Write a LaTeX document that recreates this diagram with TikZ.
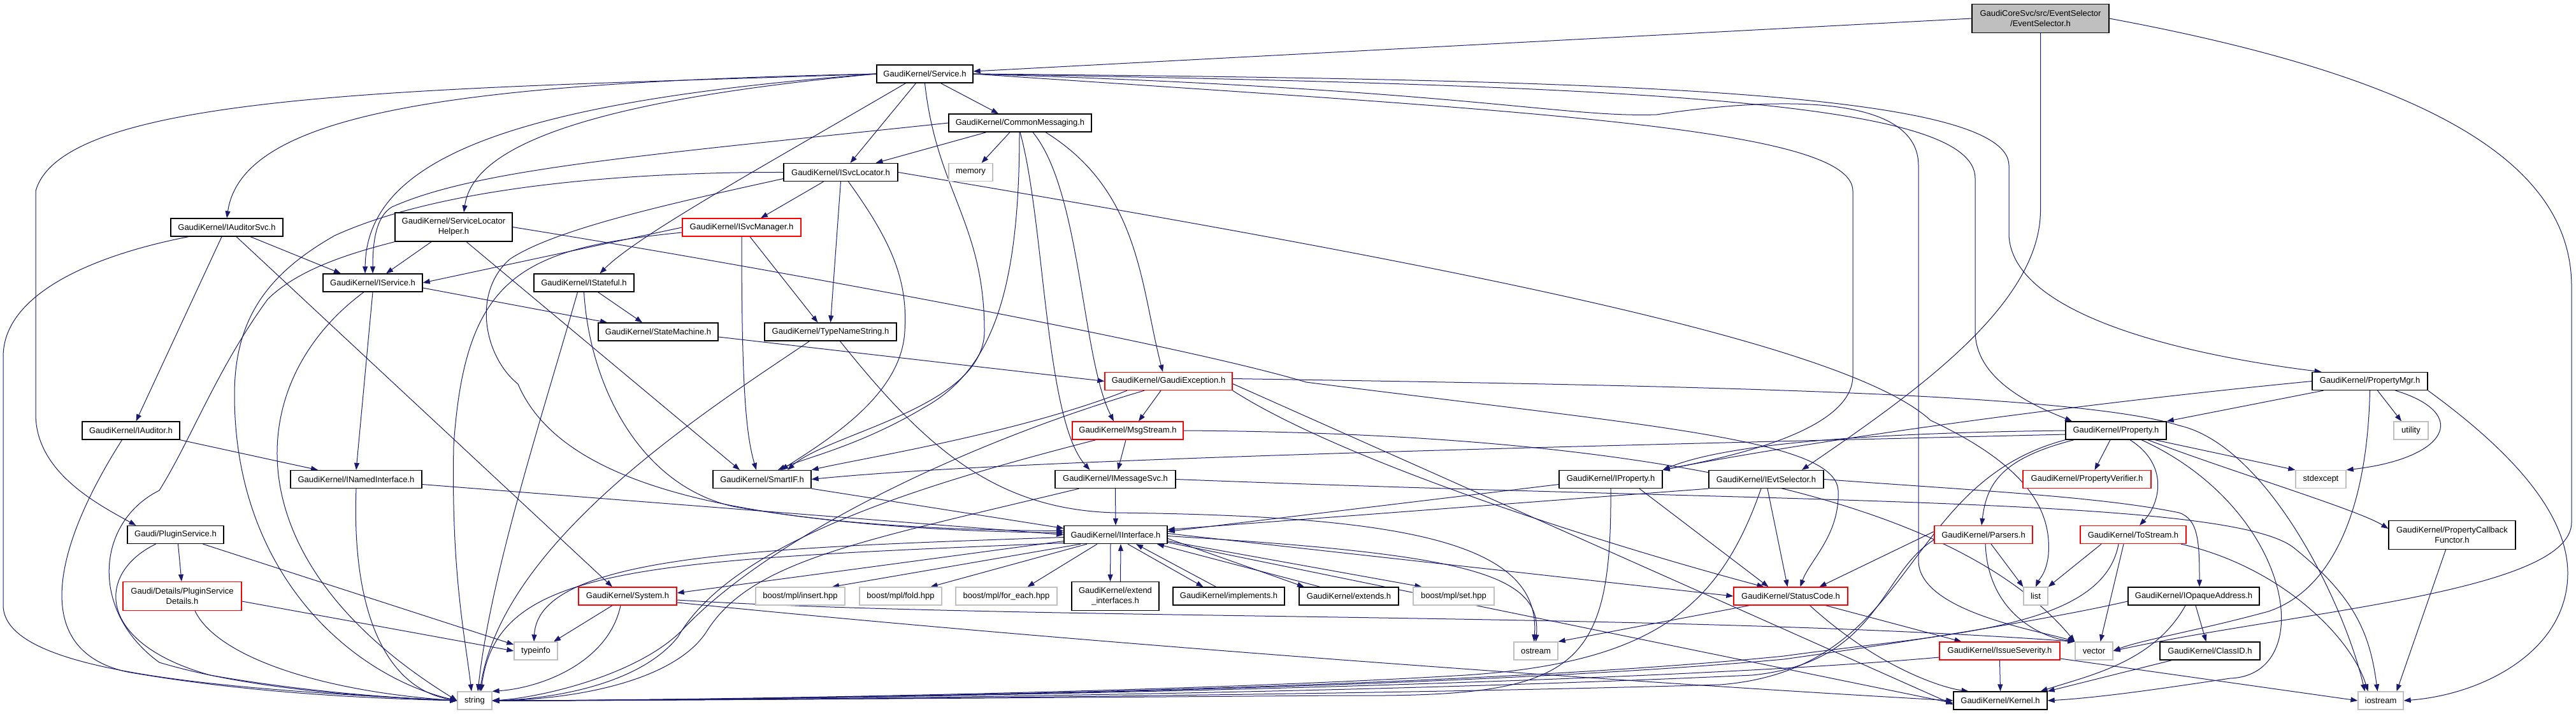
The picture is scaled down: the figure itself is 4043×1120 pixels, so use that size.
\documentclass[tikz,border=0pt]{standalone}
\usepackage{fontspec}
\setmainfont{Liberation Sans}
\usetikzlibrary{arrows.meta}
\definecolor{mblue}{HTML}{191970}
\definecolor{gbord}{HTML}{BFBFBF}
\pgfdeclarelayer{bg}
\pgfdeclarelayer{edges}
\pgfsetlayers{bg,edges,main}
\newcommand{\nf}{\fontsize{13pt}{16pt}\selectfont}
\tikzset{
  nd/.style={draw=black, fill=white, line width=1.3pt, inner sep=0pt, align=center, font=\nf, minimum height=28pt},
  rd/.style={nd, draw=red},
  gd/.style={nd, draw=gbord},
  tall/.style={minimum height=45pt},
  lnk/.style={draw=mblue, line width=1pt, -{Triangle[length=11pt,width=8pt]}},
}
\begin{document}
\begin{tikzpicture}[x=1pt,y=-1pt]
\useasboundingbox (0,0) rectangle (4043,1120);
\begin{pgfonlayer}{bg}
\fill[white] (0,0) rectangle (4043,1120);
\end{pgfonlayer}

% ---------------- nodes ----------------
\node[nd, fill=gbord, tall, minimum width=215pt] (ES) at (3202.5,29) {GaudiCoreSvc/src/EventSelector\\/EventSelector.h};
\node[nd, minimum width=151pt] (SV) at (1451.5,116) {GaudiKernel/Service.h};
\node[nd, minimum width=224pt] (CM) at (1601,193) {GaudiKernel/CommonMessaging.h};
\node[nd, minimum width=179pt] (SL) at (1319.5,270.5) {GaudiKernel/ISvcLocator.h};
\node[gd, minimum width=69pt] (MEM) at (1523.5,270.5) {memory};
\node[rd, minimum width=186pt] (SM) at (1164,357) {GaudiKernel/ISvcManager.h};
\node[nd, minimum width=176pt] (AS) at (356,357) {GaudiKernel/IAuditorSvc.h};
\node[nd, tall, minimum width=184pt] (SLH) at (712,356.5) {GaudiKernel/ServiceLocator\\Helper.h};
\node[nd, minimum width=156pt] (IS) at (585,444) {GaudiKernel/IService.h};
\node[nd, minimum width=157pt] (IST) at (916.5,444) {GaudiKernel/IStateful.h};
\node[nd, minimum width=188pt] (STM) at (1033,521) {GaudiKernel/StateMachine.h};
\node[nd, minimum width=207pt] (TNS) at (1303.5,521) {GaudiKernel/TypeNameString.h};
\node[rd, minimum width=200pt] (GE) at (1834,598.5) {GaudiKernel/GaudiException.h};
\node[nd, minimum width=181pt] (PM) at (3719.5,598.5) {GaudiKernel/PropertyMgr.h};
\node[nd, minimum width=153pt] (IA) at (205.5,676) {GaudiKernel/IAuditor.h};
\node[rd, minimum width=174pt] (MS) at (1770,676) {GaudiKernel/MsgStream.h};
\node[nd, minimum width=158pt] (PR) at (3321,676) {GaudiKernel/Property.h};
\node[gd, minimum width=54pt] (UT) at (3784,676) {utility};
\node[nd, minimum width=206pt] (NI) at (559,752.5) {GaudiKernel/INamedInterface.h};
\node[nd, minimum width=154pt] (SIF) at (1196,752.5) {GaudiKernel/SmartIF.h};
\node[nd, minimum width=189pt] (IMS) at (1750.5,752.5) {GaudiKernel/IMessageSvc.h};
\node[nd, minimum width=162pt] (IP) at (2528,752.5) {GaudiKernel/IProperty.h};
\node[nd, minimum width=180pt] (IES) at (2772,752.5) {GaudiKernel/IEvtSelector.h};
\node[rd, minimum width=201pt] (PV) at (3275.5,752.5) {GaudiKernel/PropertyVerifier.h};
\node[gd, minimum width=79pt] (SE) at (3642.5,752.5) {stdexcept};
\node[nd, minimum width=151pt] (PS) at (275.5,839.5) {Gaudi/PluginService.h};
\node[nd, minimum width=162pt] (II) at (1751,839.5) {GaudiKernel/IInterface.h};
\node[rd, minimum width=154pt] (PA) at (3113,839.5) {GaudiKernel/Parsers.h};
\node[rd, minimum width=166pt] (TS) at (3348,839.5) {GaudiKernel/ToStream.h};
\node[nd, tall, minimum width=199pt] (PCF) at (3848.5,840) {GaudiKernel/PropertyCallback\\Functor.h};
\node[rd, tall, minimum width=186pt] (PSD) at (286,936) {Gaudi/Details/PluginService\\Details.h};
\node[rd, minimum width=154pt] (SYS) at (985,936) {GaudiKernel/System.h};
\node[gd, minimum width=140pt] (BI) at (1256,936) {boost/mpl/insert.hpp};
\node[gd, minimum width=129pt] (BF) at (1413.5,936) {boost/mpl/fold.hpp};
\node[gd, minimum width=159pt] (BFE) at (1579.5,936) {boost/mpl/for\_each.hpp};
\node[nd, tall, minimum width=137pt] (EI) at (1750.5,936) {GaudiKernel/extend\\\_interfaces.h};
\node[nd, minimum width=175pt] (IMP) at (1928.5,936) {GaudiKernel/implements.h};
\node[nd, minimum width=156pt] (EXT) at (2117,936) {GaudiKernel/extends.h};
\node[gd, minimum width=127pt] (BS) at (2281.5,936) {boost/mpl/set.hpp};
\node[rd, minimum width=179pt] (SC) at (2810.5,936) {GaudiKernel/StatusCode.h};
\node[gd, minimum width=38pt] (LST) at (3195,936) {list};
\node[nd, minimum width=206pt] (IOA) at (3443,936) {GaudiKernel/IOpaqueAddress.h};
\node[gd, minimum width=68pt] (TI) at (841,1022) {typeinfo};
\node[gd, minimum width=69pt] (OS) at (2410.5,1022) {ostream};
\node[rd, minimum width=189pt] (ISV) at (3138.5,1022) {GaudiKernel/IssueSeverity.h};
\node[gd, minimum width=59pt] (VEC) at (3286.5,1022) {vector};
\node[nd, minimum width=157pt] (CID) at (3468.5,1022) {GaudiKernel/ClassID.h};
\node[gd, minimum width=54pt] (STR) at (745,1100) {string};
\node[nd, minimum width=147pt] (KER) at (3139.5,1100) {GaudiKernel/Kernel.h};
\node[gd, minimum width=71pt] (IOS) at (3736.5,1100) {iostream};

% ---------------- edges ----------------
\begin{pgfonlayer}{edges}
% EventSelector
\draw[lnk] (ES.west) -- ([yshift=4pt]SV.east);
\draw[lnk] (ES.south) -- (3202.5,330) .. controls (3202.5,480) and (3000,620) .. ([xshift=56pt]IES.north);
\draw[lnk] (ES.east) .. controls (3800,120) and (4036,250) .. (4036,450) -- (4036,820) .. controls (4036,930) and (3600,960) .. (VEC.east);
% Service
\draw[lnk] (SV.west) .. controls (700,130) and (380,180) .. (AS.north);
\draw[lnk] (SV.west) .. controls (700,140) and (100,140) .. (56,300) -- (56,650) .. controls (56,740) and (150,790) .. ([xshift=-62pt]PS.north);
\draw[lnk] (SV.west) .. controls (800,160) and (575,250) .. ([xshift=-12pt]IS.north);
\draw[lnk] (SV.west) .. controls (850,165) and (740,250) .. ([xshift=16pt]SLH.north);
\draw[lnk] ([xshift=-30pt]SV.south) .. controls (1200,260) and (1000,370) .. ([xshift=25pt]IST.north);
\draw[lnk] ([xshift=-14pt]SV.south) -- ([xshift=15pt]SL.north);
\draw[lnk] (SV.south) .. controls (1470,300) and (1545,350) .. (1545,520) .. controls (1545,640) and (1300,680) .. ([xshift=40pt]SIF.north);
\draw[lnk] ([xshift=25pt]SV.south) -- ([xshift=-34pt]CM.north);
\draw[lnk] (SV.east) .. controls (2500,125) and (3153,140) .. (3153,260) -- (3153,370) .. controls (3160,500) and (3450,560) .. ([xshift=-76pt]PM.north);
\draw[lnk] (SV.east) .. controls (2600,135) and (3100,160) .. (3100,280) -- (3100,520) .. controls (3100,600) and (3200,640) .. ([xshift=-69pt]PR.north);
\draw[lnk] (SV.east) .. controls (2300,140) and (2450,185) .. (2600,180) .. controls (2800,150) and (3011,150) .. (3011,260) -- (3011,880) .. controls (3011,960) and (3200,990) .. (VEC.north west);
\draw[lnk] (SV.east) .. controls (2400,175) and (2908,200) .. (2908,300) -- (2908,590) .. controls (2908,680) and (2700,720) .. (IP.north east);
% CommonMessaging
\draw[lnk] ([xshift=-53pt]CM.south) -- ([xshift=55pt]SL.north);
\draw[lnk] ([xshift=-16pt]CM.south) -- ([xshift=17pt]MEM.north);
\draw[lnk] (CM.west) .. controls (1000,245) and (750,265) .. (615,325) .. controls (590,340) and (585,380) .. (IS.north);
\draw[lnk] ([xshift=-1pt]CM.south) .. controls (1600,450) and (1560,580) .. (1450,640) .. controls (1350,700) and (1260,720) .. ([xshift=25pt]SIF.north);
\draw[lnk] (CM.south) .. controls (1640,350) and (1640,660) .. ([xshift=-40pt]IMS.north);
\draw[lnk] ([xshift=20pt]CM.south) .. controls (1697,300) and (1697,560) .. ([xshift=-22pt]MS.north);
\draw[lnk] ([xshift=40pt]CM.south) .. controls (1790,300) and (1790,450) .. ([xshift=-9pt]GE.north);
% ISvcLocator
\draw[lnk] ([xshift=-27pt]SL.south) -- ([xshift=30pt]SM.north);
\draw[lnk] (SL.south) -- (TNS.north);
\draw[lnk] ([xshift=12pt]SL.south) .. controls (1400,380) and (1425,440) .. (1420,520) .. controls (1415,620) and (1300,690) .. ([xshift=30pt]SIF.north);
\draw[lnk] (SL.east) .. controls (2300,420) and (2900,540) .. (3030,660) .. controls (3180,730) and (3220,800) .. (3215,870) .. controls (3212,900) and (3200,910) .. (LST.north);
\draw[lnk] (SL.west) .. controls (1000,270) and (700,290) .. (525,370) .. controls (420,430) and (368,500) .. (368,620) .. controls (368,900) and (550,1060) .. (STR.west);
\draw[lnk] ([yshift=-10pt]SL.west) .. controls (1050,320) and (870,360) .. (800,407) .. controls (740,460) and (760,560) .. (813,603) .. controls (880,760) and (1150,830) .. ([yshift=6pt]II.west);
% ISvcManager
\draw[lnk] (SM.west) -- (IS.east);
\draw[lnk] ([yshift=-8pt]SM.west) .. controls (820,390) and (730,430) .. (712,700) .. controls (708,900) and (730,1000) .. ([xshift=-5pt]STR.north);
\draw[lnk] (SM.south) .. controls (1164,600) and (1170,680) .. ([xshift=-9pt]SIF.north);
\draw[lnk] ([xshift=13pt]SM.south) -- ([xshift=-20pt]TNS.north);
% IAuditorSvc
\draw[lnk] ([xshift=-60pt]AS.south) .. controls (150,400) and (5,460) .. (5,560) -- (5,950) .. controls (5,1050) and (300,1080) .. (STR.west);
\draw[lnk] ([xshift=-8pt]AS.south) -- ([xshift=8pt]IA.north);
\draw[lnk] ([xshift=15pt]AS.south) -- ([xshift=-24pt]SYS.north);
\draw[lnk] ([xshift=37pt]AS.south) -- ([xshift=-50pt]IS.north);
% ServiceLocatorHelper
\draw[lnk] (SLH.south west) .. controls (560,395) and (470,420) .. (420,470) .. controls (340,580) and (300,690) .. (250,770) .. controls (150,820) and (140,960) .. (250,1040) .. controls (400,1085) and (600,1095) .. (STR.west);
\draw[lnk] ([xshift=-35pt]SLH.south) -- ([xshift=21pt]IS.north);
\draw[lnk] ([xshift=20pt]SLH.south) -- ([xshift=-35pt]SIF.north);
\draw[lnk] (SLH.east) .. controls (1200,420) and (1850,540) .. (2050,600) .. controls (2600,670) and (2880,690) .. (2885,770) .. controls (2888,840) and (2840,880) .. ([xshift=15pt]SC.north);
% IService
\draw[lnk] (IS.south) -- (NI.north);
\draw[lnk] ([xshift=-14pt]IS.south) .. controls (380,600) and (360,880) .. (STR.west);
\draw[lnk] ([yshift=-8pt]IS.east) -- ([xshift=-80pt]STM.north);
% IStateful
\draw[lnk] ([xshift=22pt]IST.south) -- ([xshift=-25pt]STM.north);
\draw[lnk] (IST.south) .. controls (925,600) and (1000,760) .. (1150,795) .. controls (1350,830) and (1550,835) .. ([yshift=3pt]II.west);
\draw[lnk] ([xshift=-10pt]IST.south) .. controls (852,650) and (770,900) .. ([xshift=5pt]STR.north);
% StateMachine
\draw[lnk] ([yshift=-8pt]STM.east) -- (GE.west);
% TypeNameString
\draw[lnk] ([xshift=-33pt]TNS.south) .. controls (1100,650) and (790,850) .. ([xshift=8pt]STR.north);
\draw[lnk] ([xshift=15pt]TNS.south) .. controls (1450,700) and (1560,800) .. (1750,805) .. controls (2200,810) and (2420,850) .. ([xshift=-3pt]OS.north);
% GaudiException
\draw[lnk] ([xshift=-12pt]GE.south) -- ([xshift=17pt]MS.north);
\draw[lnk] ([xshift=-65pt]GE.south) .. controls (1600,680) and (1350,720) .. (SIF.north east);
\draw[lnk] ([xshift=-38pt]GE.south) .. controls (1500,700) and (1200,850) .. (1070,990) .. controls (1000,1060) and (850,1095) .. (STR.east);
\draw[lnk] (GE.south east) .. controls (2100,720) and (2500,850) .. ([xshift=-42pt]SC.north);
\draw[lnk] ([yshift=-4pt]GE.east) -- ([yshift=-6pt]KER.west);
\draw[lnk] ([yshift=4pt]GE.east) .. controls (2600,605) and (3250,615) .. (3420,668) .. controls (3560,700) and (3680,950) .. ([xshift=-25pt]IOS.north);
% MsgStream
\draw[lnk] ([xshift=-3pt]MS.south) -- ([xshift=4pt]IMS.north);
\draw[lnk] ([xshift=-50pt]MS.south) .. controls (1450,760) and (1150,850) .. (1064,1000) .. controls (1000,1080) and (850,1098) .. (STR.east);
\draw[lnk] (MS.east) .. controls (2500,680) and (3050,760) .. (VEC.north west);
% IMessageSvc
\draw[lnk] (IMS.south) -- (II.north);
\draw[lnk] ([xshift=-57pt]IMS.south) .. controls (1350,850) and (1180,880) .. (1110,990) .. controls (1060,1070) and (900,1098) .. (STR.east);
\draw[lnk] (IMS.east) .. controls (2800,790) and (3500,780) .. (3600,860) .. controls (3700,940) and (3720,1000) .. ([xshift=-5pt]IOS.north);
% SmartIF
\draw[lnk] (SIF.south east) -- ([yshift=10pt]II.west);
% INamedInterface
\draw[lnk] ([yshift=-8pt]NI.east) -- (II.west);
\draw[lnk] (NI.south) .. controls (552,950) and (600,1080) .. (STR.west);
% PluginService
\draw[lnk] ([xshift=4pt]PS.south) -- ([xshift=-1pt]PSD.north);
\draw[lnk] ([xshift=43pt]PS.south) -- ([yshift=10pt]TI.west);
\draw[lnk] ([xshift=-31pt]PS.south) .. controls (150,900) and (150,1010) .. (330,1060) .. controls (500,1090) and (650,1097) .. (STR.west);
% PluginServiceDetails
\draw[lnk] ([yshift=-8pt]PSD.east) -- (TI.west);
\draw[lnk] ([xshift=20pt]PSD.south) .. controls (340,1030) and (500,1085) .. (STR.west);
% IAuditor
\draw[lnk] (IA.south east) -- ([xshift=-60pt]NI.north);
\draw[lnk] ([xshift=-14pt]IA.south) .. controls (90,850) and (40,1020) .. (200,1055) .. controls (400,1090) and (600,1097) .. (STR.west);
% IInterface
\draw[lnk] ([xshift=-8pt]II.south) -- ([xshift=-8pt]EI.north);
\draw[lnk] ([xshift=8pt]EI.north) -- ([xshift=8pt]II.south);
\draw[lnk] ([xshift=19pt]II.south) -- ([xshift=-40pt]IMP.north);
\draw[lnk] ([xshift=-20pt]IMP.north) -- ([xshift=32pt]II.south);
\draw[lnk] ([yshift=-6pt]II.east) -- ([xshift=-70pt]EXT.north);
\draw[lnk] ([xshift=-45pt]EXT.north) -- ([xshift=65pt]II.south);
\draw[lnk] ([xshift=-55pt]II.south) -- ([xshift=50pt]BI.north);
\draw[lnk] ([xshift=-45pt]II.south) -- ([xshift=47pt]BF.north);
\draw[lnk] ([xshift=-29pt]II.south) -- ([xshift=33pt]BFE.north);
\draw[lnk] ([yshift=-10pt]II.east) -- ([xshift=-50pt]BS.north);
\draw[lnk] ([yshift=2pt]II.east) -- (SC.west);
\draw[lnk] ([yshift=-2pt]II.east) .. controls (2300,870) and (2420,900) .. (OS.north);
\draw[lnk] ([yshift=-12pt]II.east) -- ([yshift=-4pt]KER.west);
\draw[lnk] ([yshift=-10pt]II.west) -- ([yshift=5pt]SYS.east);
\draw[lnk] ([yshift=-4pt]II.west) .. controls (1200,860) and (845,870) .. ([xshift=-3pt]TI.north);
\draw[lnk] ([yshift=-13pt]II.west) .. controls (1000,880) and (780,890) .. ([xshift=10pt]STR.north);
% System
\draw[lnk] ([xshift=-24pt]SYS.south) -- ([xshift=28pt]TI.north);
\draw[lnk] ([xshift=-11pt]SYS.south) .. controls (955,1040) and (850,1080) .. (STR.north east);
\draw[lnk] ([yshift=-6pt]SYS.east) .. controls (1600,975) and (2600,960) .. (VEC.north west);
\draw[lnk] ([yshift=-10pt]SYS.east) .. controls (1800,1020) and (2700,1080) .. (KER.west);
% StatusCode
\draw[lnk] ([xshift=-65pt]SC.south) -- (OS.north east);
\draw[lnk] ([xshift=55pt]SC.south) -- ([xshift=-60pt]ISV.north);
\draw[lnk] ([xshift=30pt]SC.south) .. controls (2950,1050) and (3050,1080) .. ([xshift=-50pt]KER.north);
% IssueSeverity
\draw[lnk] (ISV.south) -- (KER.north);
\draw[lnk] ([yshift=-12pt]ISV.east) -- (IOS.west);
\draw[lnk] ([yshift=-10pt]ISV.west) .. controls (2500,1080) and (1200,1100) .. (STR.east);
% IOpaqueAddress / ClassID
\draw[lnk] ([xshift=3pt]IOA.south) -- ([xshift=-6pt]CID.north);
\draw[lnk] ([xshift=-13pt]IOA.south) .. controls (3380,1040) and (3280,1060) .. ([xshift=63pt]KER.north);
\draw[lnk] ([yshift=-8pt]IOA.west) .. controls (3250,965) and (3050,1000) .. (2800,1035) .. controls (2200,1090) and (1000,1100) .. (STR.east);
\draw[lnk] ([xshift=-60pt]CID.south) -- (KER.north east);
% IProperty
\draw[lnk] ([yshift=-8pt]IP.west) -- ([yshift=5pt]II.east);
\draw[lnk] (IP.south) .. controls (2530,1060) and (2470,1095) .. (2100,1092) .. controls (1700,1095) and (1000,1100) .. (STR.east);
\draw[lnk] ([xshift=45pt]IP.south) -- ([xshift=-35pt]SC.north);
% IEvtSelector
\draw[lnk] (IES.south west) -- ([yshift=8pt]II.east);
\draw[lnk] ([xshift=2pt]IES.south) -- ([xshift=-5pt]SC.north);
\draw[lnk] (IES.east) .. controls (3100,770) and (3300,780) .. (3420,805) .. controls (3450,815) and (3452,850) .. ([xshift=9pt]IOA.north);
\draw[lnk] ([xshift=-8pt]IES.south) .. controls (2700,950) and (2600,1040) .. (2300,1060) .. controls (1800,1090) and (1000,1100) .. (STR.east);
% PropertyMgr
\draw[lnk] ([xshift=-73pt]PM.south) -- (PR.north east);
\draw[lnk] ([xshift=12pt]PM.south) -- ([xshift=-15pt]UT.north);
\draw[lnk] ([xshift=40pt]PM.south) .. controls (3880,650) and (3840,720) .. (SE.north east);
\draw[lnk] (PM.south) .. controls (3715,820) and (3650,930) .. (3560,960) .. controls (3450,990) and (3360,1005) .. (VEC.east);
\draw[lnk] (PM.south east) .. controls (3930,700) and (4030,800) .. (4030,900) .. controls (4030,1020) and (3900,1090) .. (IOS.east);
\draw[lnk] (PM.west) .. controls (3200,640) and (2800,700) .. (IP.north east);
% Property
\draw[lnk] ([xshift=-9pt]PR.south) -- ([xshift=12pt]PV.north);
\draw[lnk] ([xshift=-66pt]PR.south) .. controls (3140,720) and (3118,760) .. ([xshift=-3pt]PA.north);
\draw[lnk] ([xshift=22pt]PR.south) .. controls (3405,730) and (3390,790) .. ([xshift=10pt]TS.north);
\draw[lnk] ([xshift=61pt]PR.south) -- (SE.north west);
\draw[lnk] ([xshift=50pt]PR.south) .. controls (3500,740) and (3700,800) .. ([yshift=10pt]PCF.west);
\draw[lnk] ([xshift=40pt]PR.south) .. controls (3600,800) and (3640,1060) .. (3500,1065) .. controls (3400,1080) and (3300,1095) .. (KER.east);
\draw[lnk] (PR.west) .. controls (2900,680) and (2700,700) .. (IP.north east);
\draw[lnk] ([yshift=-6pt]PR.west) .. controls (2500,700) and (1600,720) .. (SIF.east);
\draw[lnk] (PR.south west) .. controls (2980,760) and (3010,1050) .. (2700,1075) .. controls (2000,1095) and (1000,1100) .. (STR.east);
% Parsers
\draw[lnk] ([xshift=12pt]PA.south) -- (LST.north west);
\draw[lnk] ([xshift=3pt]PA.south) .. controls (3120,960) and (3200,1000) .. (VEC.north west);
\draw[lnk] ([yshift=5pt]PA.west) -- ([xshift=45pt]SC.north);
\draw[lnk] ([yshift=-8pt]PA.west) .. controls (2950,900) and (2950,1040) .. (2750,1060) .. controls (2000,1095) and (1000,1100) .. (STR.east);
% ToStream
\draw[lnk] ([xshift=-50pt]TS.south) -- (LST.north east);
\draw[lnk] ([xshift=-15pt]TS.south) -- ([xshift=10pt]VEC.north);
\draw[lnk] ([xshift=75pt]TS.south) .. controls (3580,890) and (3690,1000) .. ([xshift=-20pt]IOS.north);
\draw[lnk] ([xshift=-23pt]TS.south) .. controls (3300,990) and (3050,995) .. (2800,1030) .. controls (2200,1090) and (1000,1100) .. (STR.east);
% PropertyCallbackFunctor
\draw[lnk] ([xshift=-10pt]PCF.south) -- ([xshift=25pt]IOS.north);
\end{pgfonlayer}
\end{tikzpicture}
\end{document}
